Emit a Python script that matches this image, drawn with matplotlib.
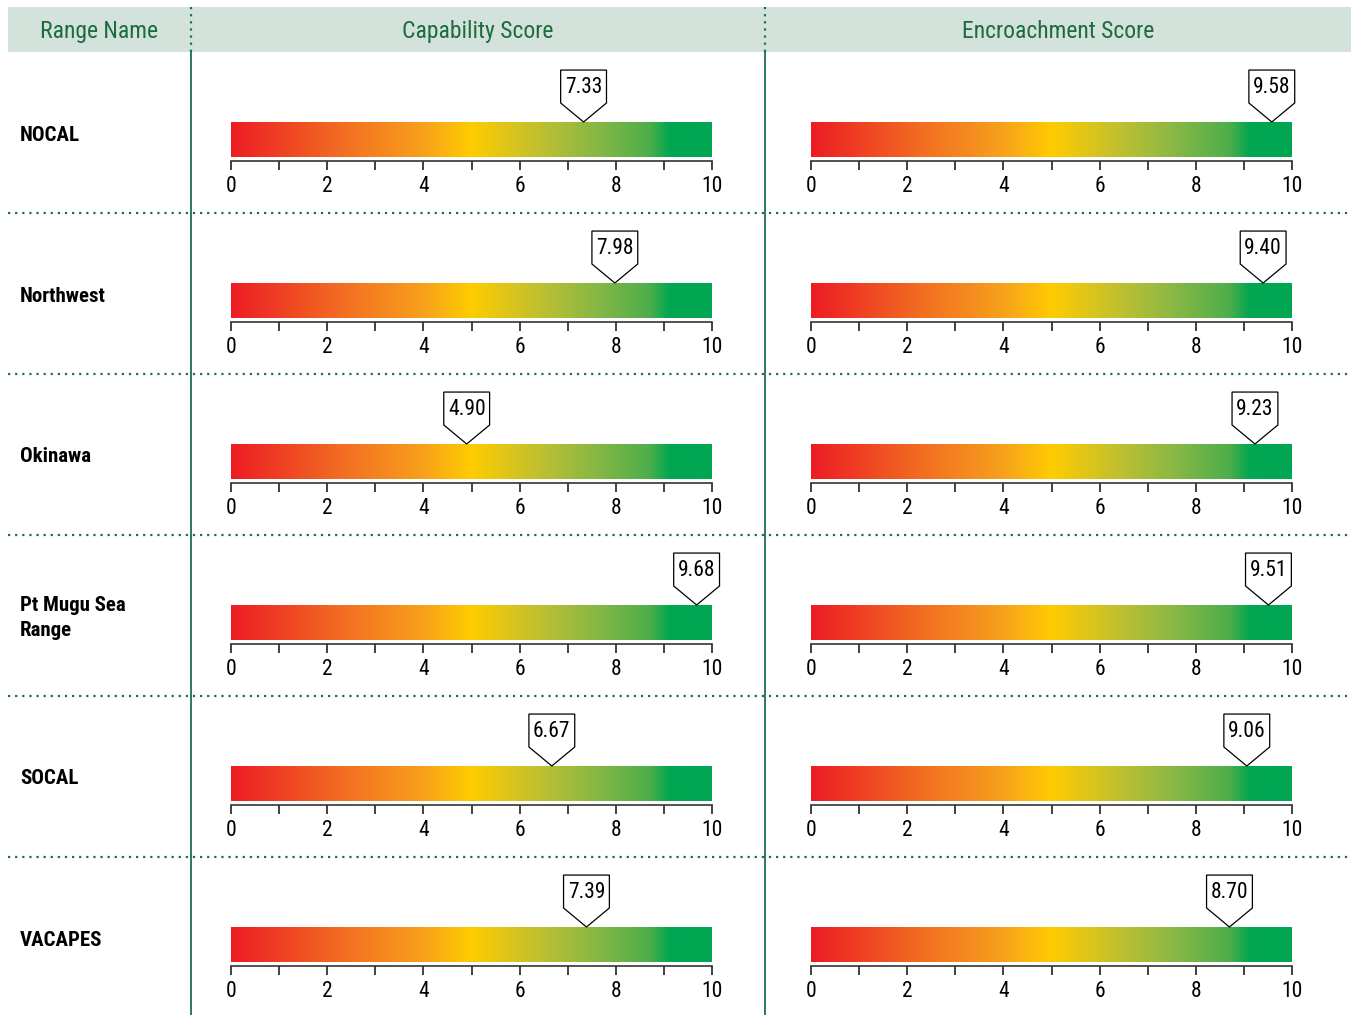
import numpy as np
import matplotlib
matplotlib.use("Agg")
import matplotlib.pyplot as plt
from matplotlib.colors import LinearSegmentedColormap
from matplotlib.patches import Polygon, Rectangle
from matplotlib.ticker import MultipleLocator
import matplotlib.transforms as mtransforms

plt.rcParams['font.family'] = ['Roboto Condensed', 'Archivo Narrow', 'DejaVu Sans']

# data
ranges = ["NOCAL", "Northwest", "Okinawa", "Pt Mugu Sea\nRange", "SOCAL", "VACAPES"]
capability = [7.33, 7.98, 4.90, 9.68, 6.67, 7.39]
encroachment = [9.58, 9.40, 9.23, 9.51, 9.06, 8.70]
headers = ["Range Name", "Capability Score", "Encroachment Score"]

W, H = 1353, 1015
green_txt = '#1d6b3e'
line_col = '#1f6e4e'
header_bg = '#d3e3dc'

cmap = LinearSegmentedColormap.from_list('score', [
    (0.0, '#ed1c24'), (0.22, '#f26a22'), (0.4, '#f7a11c'), (0.5, '#ffcc00'),
    (0.65, '#bcbf32'), (0.75, '#8cb844'), (0.87, '#4fae4b'), (0.915, '#00a651'),
    (1.0, '#00a651')])
grad = np.linspace(0, 1, 512).reshape(1, -1)

fig = plt.figure(figsize=(W / 100, H / 100), dpi=100)

# background: header band, dividers
bg = fig.add_axes([0, 0, 1, 1])
bg.set_xlim(0, W)
bg.set_ylim(H, 0)
bg.axis('off')
bg.add_patch(Rectangle((8, 7), 1343, 45, color=header_bg, lw=0))
col_x = [191, 765]
for x in col_x:
    bg.plot([x, x], [7, 52], color=line_col, lw=1.6, ls=(0, (1, 2.2)))
    bg.plot([x, x], [52, H], color=line_col, lw=1.3)
row_h = 161
top0 = 52
for k in range(1, len(ranges)):
    y = top0 + row_h * k
    bg.plot([8, 1351], [y, y], color=line_col, lw=1.6, ls=(0, (1, 2.2)))

for hx, htxt in zip([99, 478, 1058], headers):
    bg.text(hx, 31, htxt, ha='center', va='center', fontsize=17, color=green_txt)

bar_x = [231, 811]
bar_w = 481


def score_bar(ax, value):
    ax.imshow(grad, cmap=cmap, extent=[0, 10, 0, 1], aspect='auto', interpolation='bilinear')
    ax.set_xlim(0, 10)
    ax.set_ylim(0, 1)
    for s in ['top', 'left', 'right']:
        ax.spines[s].set_visible(False)
    ax.spines['bottom'].set_position(('outward', 3))
    ax.spines['bottom'].set_color('#333333')
    ax.spines['bottom'].set_linewidth(1.2)
    ax.set_yticks([])
    ax.xaxis.set_major_locator(MultipleLocator(2))
    ax.xaxis.set_minor_locator(MultipleLocator(1))
    ax.tick_params(axis='x', which='both', direction='out', length=6.5, width=1.3,
                   color='#333333')
    ax.tick_params(axis='x', which='major', labelsize=15.5, pad=4)
    # pointer callout
    tr = mtransforms.Affine2D().scale(fig.dpi / 72) + \
        mtransforms.ScaledTranslation(value, 1, ax.transData)
    verts = [(0, 0), (16.5, 13.7), (16.5, 37.4), (-16.5, 37.4), (-16.5, 13.7)]
    ax.add_patch(Polygon(verts, closed=True, facecolor='white', edgecolor='black',
                         lw=0.9, transform=tr, clip_on=False, zorder=5))
    ax.annotate(f"{value:.2f}", xy=(value, 1), xytext=(0, 24.5), textcoords='offset points',
                ha='center', va='center', fontsize=15.5, zorder=6, annotation_clip=False)


for i, name in enumerate(ranges):
    bar_top = 122 + row_h * i
    bg.text(20, 135 + row_h * i, name, ha='left', va='center', fontsize=15,
            fontweight='bold', linespacing=1.35)
    for j, vals in enumerate([capability, encroachment]):
        ax = fig.add_axes([bar_x[j] / W, 1 - (bar_top + 35) / H, bar_w / W, 35 / H])
        score_bar(ax, vals[i])

fig.savefig('out.png', dpi=100)
